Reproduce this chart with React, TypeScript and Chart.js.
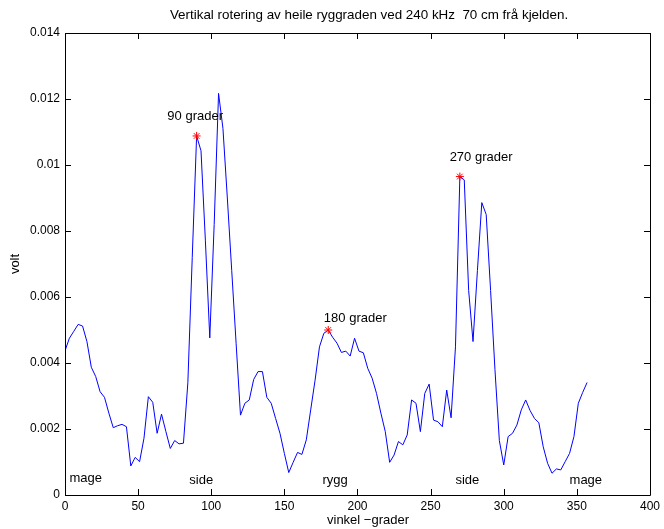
import React, { useEffect, useRef } from "react";
import { Chart, registerables } from "chart.js";

Chart.register(...registerables);

const angles = [
  0, 3, 6, 9, 12, 15, 18, 21, 24, 27, 30, 33, 36, 39, 42, 45, 48, 51, 54, 57,
  60, 63, 66, 69, 72, 75, 78, 81, 84, 87, 90, 93, 96, 99, 102, 105, 108, 111, 114, 117,
  120, 123, 126, 129, 132, 135, 138, 141, 144, 147, 150, 153, 156, 159, 162, 165, 168, 171, 174, 177,
  180, 183, 186, 189, 192, 195, 198, 201, 204, 207, 210, 213, 216, 219, 222, 225, 228, 231, 234, 237,
  240, 243, 246, 249, 252, 255, 258, 261, 264, 267, 270, 273, 276, 279, 282, 285, 288, 291, 294, 297,
  300, 303, 306, 309, 312, 315, 318, 321, 324, 327, 330, 333, 336, 339, 342, 345, 348, 351, 354, 357,
];

const volts = [
  0.00437, 0.00475, 0.00496, 0.00517, 0.00512, 0.00465, 0.00387, 0.00359, 0.00313, 0.00296,
  0.00248, 0.00204, 0.0021, 0.00214, 0.00207, 0.00088, 0.00114, 0.00101, 0.00172, 0.00298,
  0.00281, 0.00187, 0.00245, 0.00192, 0.00141, 0.00165, 0.00155, 0.00157, 0.0034, 0.0072,
  0.01088, 0.01043, 0.0077, 0.00476, 0.0082, 0.01217, 0.01111, 0.009, 0.0068, 0.0046,
  0.00242, 0.00278, 0.00288, 0.0035, 0.00374, 0.00374, 0.00296, 0.00278, 0.00232, 0.00187,
  0.00126, 0.00068, 0.00099, 0.00129, 0.00123, 0.00167, 0.00258, 0.00348, 0.00449, 0.0049,
  0.005, 0.00478, 0.0046, 0.00432, 0.00436, 0.00421, 0.00475, 0.00436, 0.00431, 0.00384,
  0.00354, 0.00308, 0.00248, 0.00192, 0.00099, 0.00121, 0.00162, 0.00152, 0.00182, 0.00288,
  0.00278, 0.00192, 0.00308, 0.00336, 0.00227, 0.00222, 0.00207, 0.00318, 0.00234, 0.00449,
  0.00965, 0.00955, 0.0062, 0.00465, 0.0068, 0.00886, 0.0085, 0.0062, 0.0038, 0.00165,
  0.00091, 0.00177, 0.00187, 0.00212, 0.00258, 0.00288, 0.00256, 0.00232, 0.00219, 0.00146,
  0.00096, 0.00066, 0.00079, 0.00076, 0.00101, 0.00126, 0.00177, 0.00278, 0.00311, 0.00341,
];

const markerAngles = [90, 180, 270];

const peakLabels = ["90 grader", "180 grader", "270 grader"];
const peakLabelX = [70, 177, 263];
const peakLabelY = [0.01148, 0.00536, 0.01024];

const sideLabels = ["mage", "side", "rygg", "side", "mage"];
const sideLabelX = [3, 85, 176, 267, 345];
const sideLabelY = [0.0005, 0.00045, 0.00045, 0.00045, 0.00045];

const xTicks = [0, 50, 100, 150, 200, 250, 300, 350, 400];
const yTicks = [0, 0.002, 0.004, 0.006, 0.008, 0.01, 0.012, 0.014];

const titleText = "Vertikal rotering av heile ryggraden ved 240 kHz  70 cm frå kjelden.";
const xTitle = "vinkel \u2212grader";
const yTitle = "volt";

const FAMILY = "'Liberation Sans', Arial, Helvetica, sans-serif";

const decorPlugin = {
  id: "decor",
  afterDraw(chart: any) {
    const { ctx, chartArea, scales } = chart;
    const xs = scales.x;
    const ys = scales.y;
    const { left, right, top, bottom } = chartArea;
    ctx.save();
    ctx.strokeStyle = "#000";
    ctx.lineWidth = 1;
    ctx.beginPath();
    ctx.rect(Math.round(left) + 0.5, Math.round(top) + 0.5, Math.round(right - left), Math.round(bottom - top));
    ctx.stroke();
    const tl = 6;
    ctx.beginPath();
    xTicks.forEach((t) => {
      const px = Math.round(xs.getPixelForValue(t)) + 0.5;
      ctx.moveTo(px, bottom);
      ctx.lineTo(px, bottom - tl);
      ctx.moveTo(px, top);
      ctx.lineTo(px, top + tl);
    });
    yTicks.forEach((t) => {
      const py = Math.round(ys.getPixelForValue(t)) + 0.5;
      ctx.moveTo(left, py);
      ctx.lineTo(left + tl, py);
      ctx.moveTo(right, py);
      ctx.lineTo(right - tl, py);
    });
    ctx.stroke();

    ctx.fillStyle = "#000";
    ctx.font = "13px " + FAMILY;
    ctx.textBaseline = "middle";
    ctx.textAlign = "left";
    peakLabels.forEach((s, i) => {
      ctx.fillText(s, xs.getPixelForValue(peakLabelX[i]), ys.getPixelForValue(peakLabelY[i]));
    });
    sideLabels.forEach((s, i) => {
      ctx.fillText(s, xs.getPixelForValue(sideLabelX[i]), ys.getPixelForValue(sideLabelY[i]));
    });

    ctx.textAlign = "center";
    ctx.font = "13.4px " + FAMILY;
    ctx.fillText(titleText, 369, 15);
    ctx.font = "13px " + FAMILY;
    ctx.fillText(xTitle, 368, 520);
    ctx.translate(15, (top + bottom) / 2);
    ctx.rotate(-Math.PI / 2);
    ctx.fillText(yTitle, 0, 0);
    ctx.restore();
  },
};

export default function App() {
  const ref = useRef<HTMLCanvasElement>(null);

  useEffect(() => {
    if (!ref.current) return;
    const lineData = angles.map((a, i) => ({ x: a, y: volts[i] }));
    const markerData = markerAngles.map((a) => ({ x: a, y: volts[angles.indexOf(a)] }));
    const chart = new Chart(ref.current, {
      type: "line",
      data: {
        datasets: [
          {
            type: "scatter",
            data: markerData,
            pointStyle: "star",
            pointRadius: 4,
            pointBorderColor: "#ff0000",
            pointBackgroundColor: "#ff0000",
            pointBorderWidth: 1,
            showLine: false,
          } as any,
          {
            data: lineData,
            borderColor: "#0000ff",
            borderWidth: 1,
            pointRadius: 0,
            tension: 0,
            fill: false,
          },
        ],
      },
      options: {
        responsive: false,
        animation: false,
        events: [],
        layout: { padding: { left: 0, right: 11, top: 33, bottom: 0 } },
        plugins: { legend: { display: false }, tooltip: { enabled: false }, title: { display: false } },
        scales: {
          x: {
            type: "linear",
            min: 0,
            max: 400,
            afterFit: (s: any) => {
              s.height = 34;
            },
            afterBuildTicks: (s: any) => {
              s.ticks = xTicks.map((v) => ({ value: v }));
            },
            grid: { display: false, drawTicks: false },
            border: { display: false },
            ticks: {
              autoSkip: false,
              maxRotation: 0,
              padding: 4,
              color: "#000",
              font: { family: FAMILY, size: 12 },
            },
          },
          y: {
            type: "linear",
            min: 0,
            max: 0.014,
            afterFit: (s: any) => {
              s.width = 65;
            },
            afterBuildTicks: (s: any) => {
              s.ticks = yTicks.map((v) => ({ value: v }));
            },
            grid: { display: false, drawTicks: false },
            border: { display: false },
            ticks: {
              autoSkip: false,
              padding: 5,
              color: "#000",
              font: { family: FAMILY, size: 12 },
              callback: (v: any) => String(parseFloat(Number(v).toFixed(4))),
            },
          },
        },
      },
      plugins: [decorPlugin],
    });
    return () => chart.destroy();
  }, []);

  return (
    <div style={{ position: "absolute", left: 0, top: 0, width: 664, height: 529, background: "#fff" }}>
      <canvas ref={ref} width={664} height={529} style={{ display: "block" }} />
    </div>
  );
}
